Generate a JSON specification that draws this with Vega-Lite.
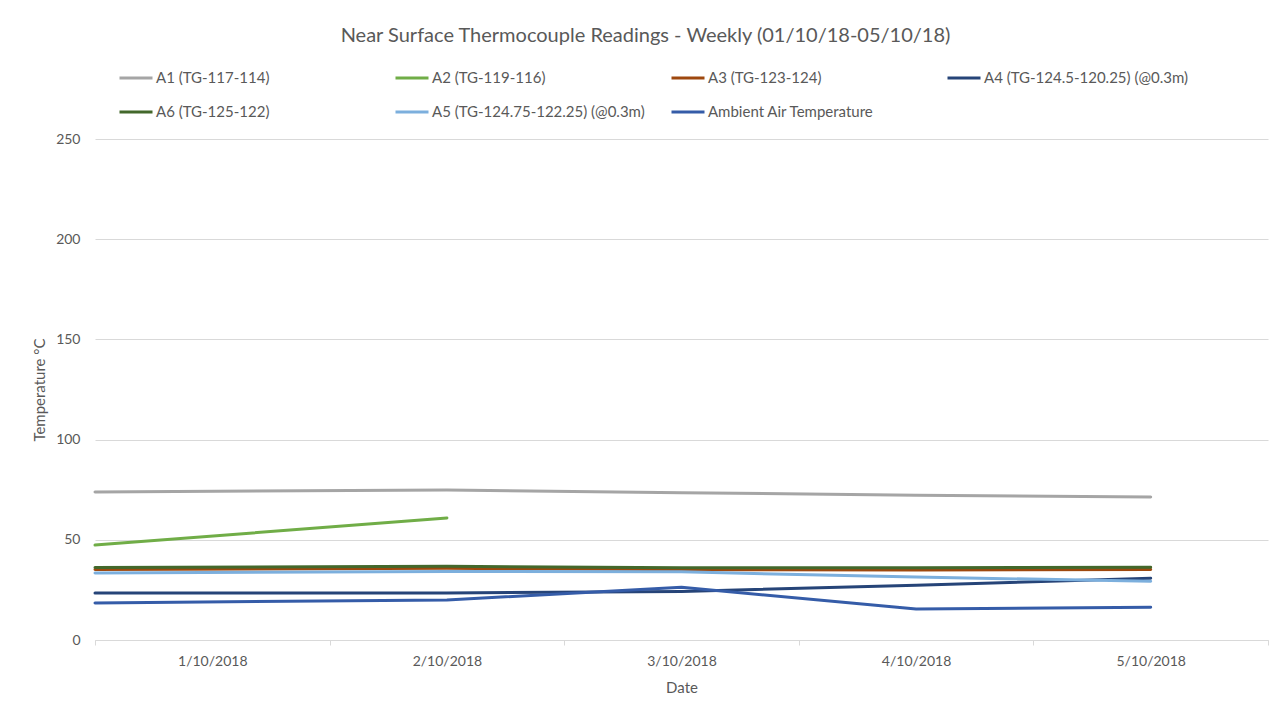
{
  "$schema": "https://vega.github.io/schema/vega-lite/v6.json",
  "width": 1173,
  "height": 501,
  "autosize": {"type": "none"},
  "padding": {"left": 95, "top": 139, "right": 18, "bottom": 78},
  "background": "white",
  "config": {"font": "Lato", "view": {"stroke": null}},
  "title": {
    "text": "Near Surface Thermocouple Readings - Weekly (01/10/18-05/10/18)",
    "fontSize": 20,
    "fontWeight": "normal",
    "color": "#595959",
    "anchor": "middle",
    "frame": "group",
    "dx": -36,
    "offset": 14
  },
  "data": {
    "values": [
      {"date": "2018-09-30T12:00:00Z", "series": "A1 (TG-117-114)", "temp": 73.9},
      {"date": "2018-10-02T00:00:00Z", "series": "A1 (TG-117-114)", "temp": 74.9},
      {"date": "2018-10-03T00:00:00Z", "series": "A1 (TG-117-114)", "temp": 73.5},
      {"date": "2018-10-04T00:00:00Z", "series": "A1 (TG-117-114)", "temp": 72.2},
      {"date": "2018-10-05T00:00:00Z", "series": "A1 (TG-117-114)", "temp": 71.4},
      {"date": "2018-09-30T12:00:00Z", "series": "A2 (TG-119-116)", "temp": 47.4},
      {"date": "2018-10-02T00:00:00Z", "series": "A2 (TG-119-116)", "temp": 60.9},
      {"date": "2018-09-30T12:00:00Z", "series": "A3 (TG-123-124)", "temp": 35.2},
      {"date": "2018-10-02T00:00:00Z", "series": "A3 (TG-123-124)", "temp": 35.8},
      {"date": "2018-10-03T00:00:00Z", "series": "A3 (TG-123-124)", "temp": 35.1},
      {"date": "2018-10-04T00:00:00Z", "series": "A3 (TG-123-124)", "temp": 34.9},
      {"date": "2018-10-05T00:00:00Z", "series": "A3 (TG-123-124)", "temp": 35.2},
      {"date": "2018-09-30T12:00:00Z", "series": "A4 (TG-124.5-120.25) (@0.3m)", "temp": 23.5},
      {"date": "2018-10-02T00:00:00Z", "series": "A4 (TG-124.5-120.25) (@0.3m)", "temp": 23.5},
      {"date": "2018-10-03T00:00:00Z", "series": "A4 (TG-124.5-120.25) (@0.3m)", "temp": 24.2},
      {"date": "2018-10-04T00:00:00Z", "series": "A4 (TG-124.5-120.25) (@0.3m)", "temp": 27.3},
      {"date": "2018-10-05T00:00:00Z", "series": "A4 (TG-124.5-120.25) (@0.3m)", "temp": 30.8},
      {"date": "2018-09-30T12:00:00Z", "series": "A6 (TG-125-122)", "temp": 36.2},
      {"date": "2018-10-02T00:00:00Z", "series": "A6 (TG-125-122)", "temp": 36.8},
      {"date": "2018-10-03T00:00:00Z", "series": "A6 (TG-125-122)", "temp": 36.0},
      {"date": "2018-10-04T00:00:00Z", "series": "A6 (TG-125-122)", "temp": 36.0},
      {"date": "2018-10-05T00:00:00Z", "series": "A6 (TG-125-122)", "temp": 36.3},
      {"date": "2018-09-30T12:00:00Z", "series": "A5 (TG-124.75-122.25) (@0.3m)", "temp": 33.4},
      {"date": "2018-10-02T00:00:00Z", "series": "A5 (TG-124.75-122.25) (@0.3m)", "temp": 34.2},
      {"date": "2018-10-03T00:00:00Z", "series": "A5 (TG-124.75-122.25) (@0.3m)", "temp": 34.0},
      {"date": "2018-10-04T00:00:00Z", "series": "A5 (TG-124.75-122.25) (@0.3m)", "temp": 31.4},
      {"date": "2018-10-05T00:00:00Z", "series": "A5 (TG-124.75-122.25) (@0.3m)", "temp": 29.3},
      {"date": "2018-09-30T12:00:00Z", "series": "Ambient Air Temperature", "temp": 18.5},
      {"date": "2018-10-02T00:00:00Z", "series": "Ambient Air Temperature", "temp": 20.0},
      {"date": "2018-10-03T00:00:00Z", "series": "Ambient Air Temperature", "temp": 26.3},
      {"date": "2018-10-04T00:00:00Z", "series": "Ambient Air Temperature", "temp": 15.5},
      {"date": "2018-10-05T00:00:00Z", "series": "Ambient Air Temperature", "temp": 16.3}
    ]
  },
  "mark": {"type": "line", "strokeWidth": 3, "strokeCap": "round", "strokeJoin": "round"},
  "encoding": {
    "x": {
      "field": "date",
      "type": "temporal",
      "scale": {
        "type": "utc",
        "domain": [
          {"year": 2018, "month": 9, "date": 30, "hours": 12, "utc": true},
          {"year": 2018, "month": 10, "date": 5, "hours": 12, "utc": true}
        ]
      },
      "axis": {
        "title": "Date",
        "values": [
          {"year": 2018, "month": 9, "date": 30, "hours": 12, "utc": true},
          {"year": 2018, "month": 10, "date": 1, "hours": 12, "utc": true},
          {"year": 2018, "month": 10, "date": 2, "hours": 12, "utc": true},
          {"year": 2018, "month": 10, "date": 3, "hours": 12, "utc": true},
          {"year": 2018, "month": 10, "date": 4, "hours": 12, "utc": true},
          {"year": 2018, "month": 10, "date": 5, "hours": 12, "utc": true}
        ],
        "labelExpr": "datum.index >= 1 ? '' : utcFormat(datum.value + 43200000, '%-d/%m/%Y')",
        "labelOffset": 117.3,
        "labelOverlap": false,
        "labelBound": false,
        "labelFlush": false,
        "grid": false,
        "domainColor": "#d9d9d9",
        "tickColor": "#d9d9d9",
        "tickSize": 5,
        "labelPadding": 9,
        "labelFontSize": 14,
        "labelColor": "#595959",
        "titleFontSize": 15,
        "titleFontWeight": "normal",
        "titleColor": "#595959",
        "titlePadding": 12
      }
    },
    "y": {
      "field": "temp",
      "type": "quantitative",
      "title": "Temperature °C",
      "scale": {"domain": [0, 250]},
      "axis": {
        "values": [0, 50, 100, 150, 200, 250],
        "domain": false,
        "ticks": false,
        "gridColor": "#d9d9d9",
        "labelPadding": 15,
        "labelFontSize": 14,
        "labelColor": "#595959",
        "titleFontSize": 15,
        "titleFontWeight": "normal",
        "titleColor": "#595959",
        "titlePadding": 8
      }
    },
    "color": {
      "field": "series",
      "type": "nominal",
      "scale": {
        "domain": [
          "A1 (TG-117-114)",
          "A2 (TG-119-116)",
          "A3 (TG-123-124)",
          "A4 (TG-124.5-120.25) (@0.3m)",
          "A6 (TG-125-122)",
          "A5 (TG-124.75-122.25) (@0.3m)",
          "Ambient Air Temperature"
        ],
        "range": ["#a5a5a5", "#70ad47", "#9e480e", "#264478", "#43682b", "#7cafdd", "#355ca8"]
      },
      "legend": {
        "title": null,
        "orient": "none",
        "legendX": 23,
        "legendY": -79,
        "direction": "horizontal",
        "columns": 4,
        "gridAlign": "all",
        "symbolType": "stroke",
        "symbolStrokeWidth": 3,
        "symbolSize": 1089,
        "labelFontSize": 15,
        "labelColor": "#595959",
        "labelOffset": 2,
        "labelLimit": 400,
        "columnPadding": 20,
        "rowPadding": 8
      }
    }
  }
}
